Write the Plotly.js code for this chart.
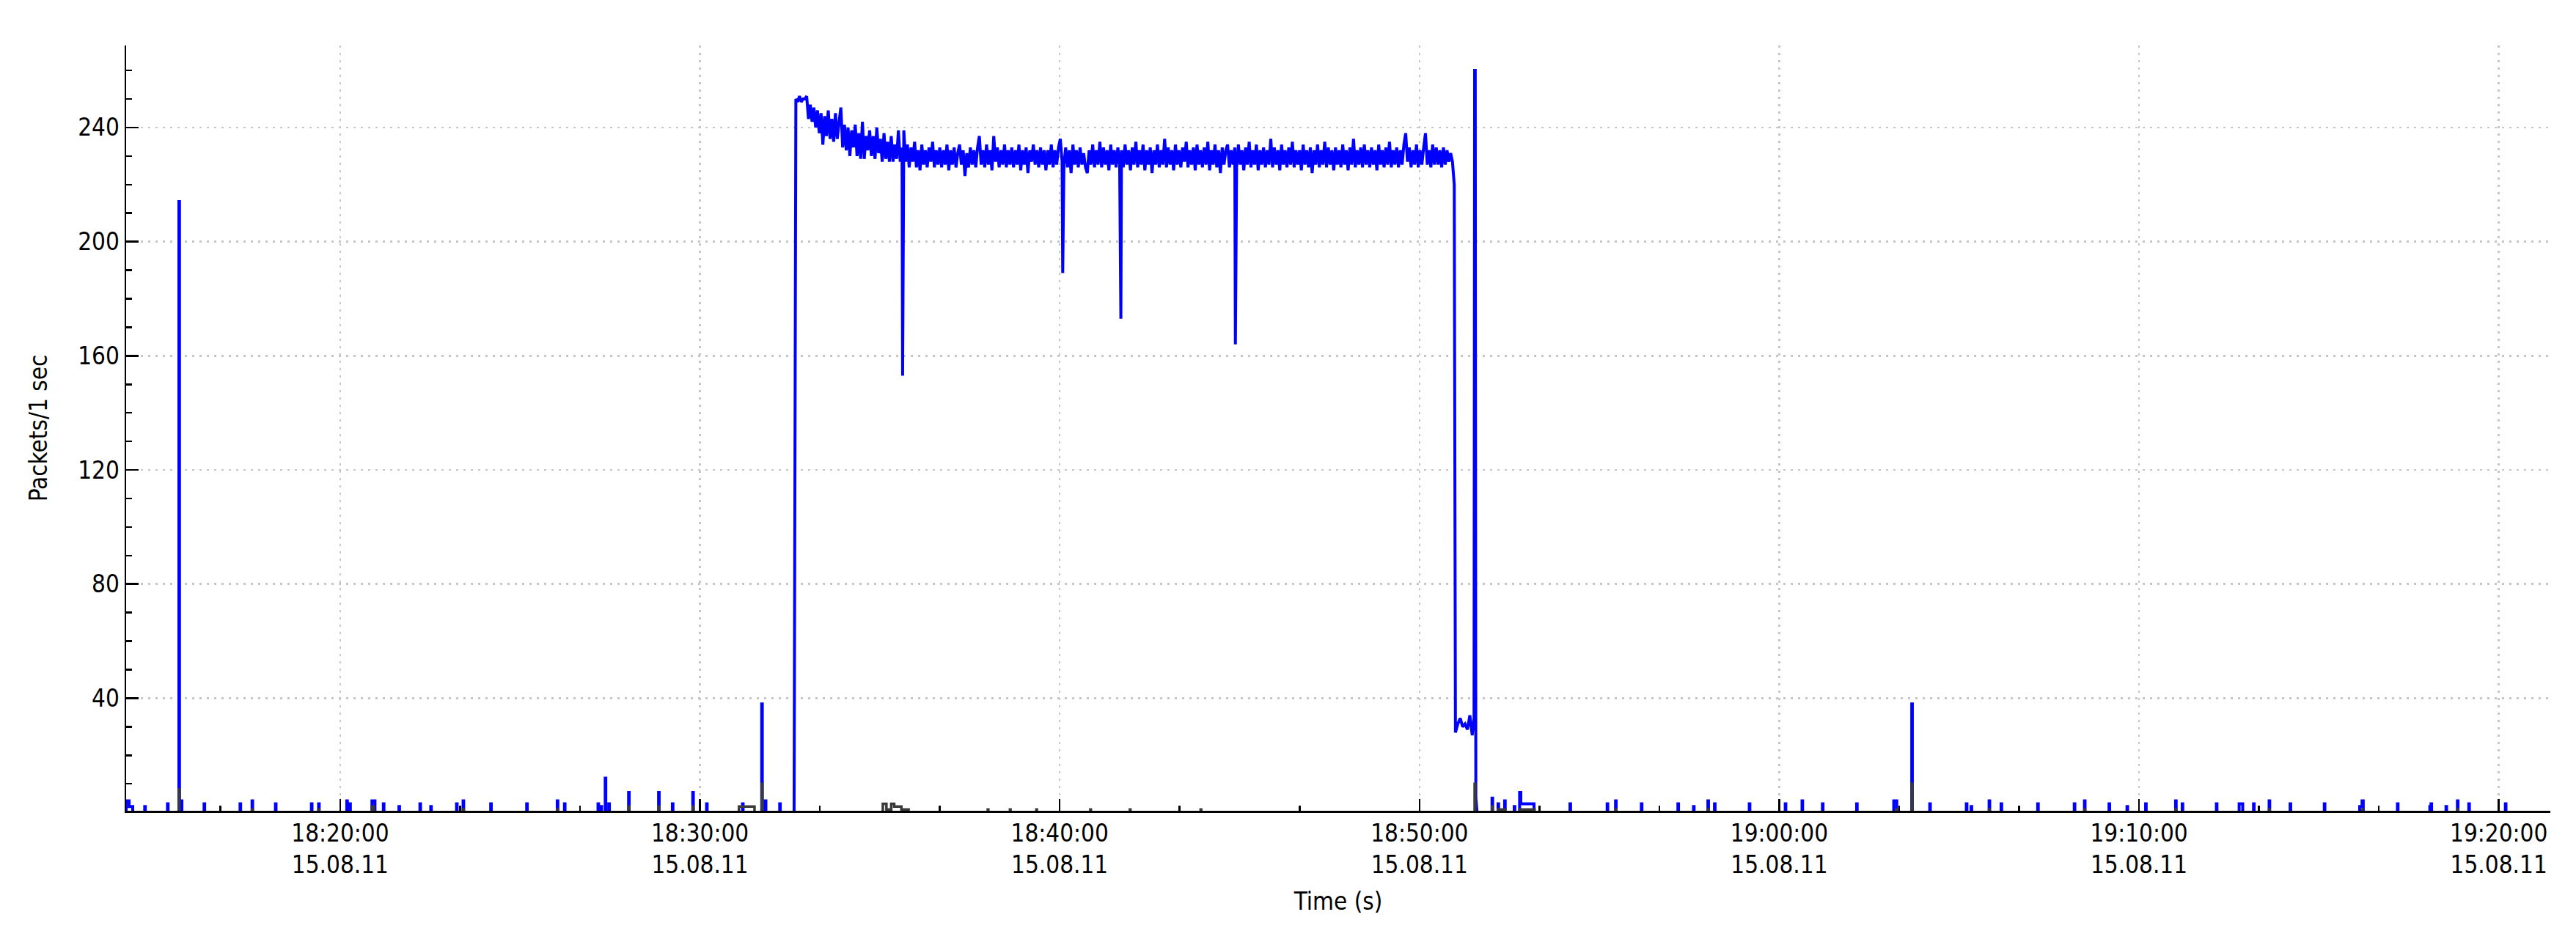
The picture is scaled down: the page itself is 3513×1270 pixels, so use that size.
<!DOCTYPE html>
<html><head><meta charset="utf-8">
<script src="https://cdn.plot.ly/plotly-3.0.1.min.js"></script>
<style>html,body{margin:0;padding:0;background:#fff;} #chart{width:3513px;height:1270px;}</style>
</head><body><div id="chart"></div>
<script>
const day = '2011-08-15';
const xRange = ['18:14:03', '19:21:26'];
const xTickTimes = ['18:20:00','18:30:00','18:40:00','18:50:00','19:00:00','19:10:00','19:20:00'];
const xTickDate = '15.08.11';
const yTickVals = [40, 80, 120, 160, 200, 240];

// blue series, quiet periods: burst start, packets/s, duration (s)
const blueBurstTimes = ['18:14:03','18:14:08','18:14:34','18:15:12','18:15:31','18:15:35','18:16:13','18:17:13','18:17:33','18:18:12',
  '18:19:12','18:19:24','18:20:11','18:20:16','18:20:53','18:21:12','18:21:38','18:22:13','18:22:31','18:23:14',
  '18:23:25','18:24:11','18:25:11','18:26:02','18:26:14','18:27:10','18:27:15','18:27:22','18:27:28','18:28:01',
  '18:28:51','18:29:14','18:29:48','18:30:11','18:31:11','18:31:43','18:31:49','18:32:13',
  '18:52:01','18:52:11','18:52:22','18:52:38','18:52:47','18:52:49','18:54:11','18:55:13','18:55:27','18:56:10',
  '18:57:11','18:57:37','18:58:01','18:58:12','18:59:10','19:00:10','19:00:38','19:01:12','19:02:09','19:03:11',
  '19:03:41','19:04:11','19:05:12','19:05:20','19:05:50','19:06:10','19:07:11','19:08:12','19:08:29','19:09:10',
  '19:09:40','19:10:11','19:11:01','19:11:12','19:12:09','19:12:47','19:13:11','19:13:37','19:14:12','19:15:09',
  '19:16:08','19:16:12','19:17:11','19:18:05','19:18:07','19:18:32','19:18:51','19:19:10','19:20:11'];
const blueBurstValues = [4,2,2,3,214,4,3,3,4,3,
  3,3,4,3,4,3,2,3,2,3,
  4,3,3,4,3,3,2,12,3,7,
  7,3,7,3,3,38,4,3,
  5,3,4,2,7,3,3,3,4,3,
  3,2,4,3,3,3,4,3,3,4,
  38,3,3,2,4,3,3,3,4,3,
  2,3,4,3,3,3,3,4,3,3,
  2,4,3,2,3,2,4,3,3];
const blueBurstSecs = [5,6,1,1,1,1,1,1,1,1,
  1,1,1,1,5,1,1,1,1,1,
  1,1,1,1,1,1,1,1,1,1,
  1,1,1,1,1,1,1,1,
  1,1,1,1,2,22,1,1,1,1,
  1,1,1,1,1,1,1,1,1,5,
  1,1,1,1,1,1,1,1,1,1,
  1,1,1,1,1,6,1,1,1,1,
  4,2,1,2,1,1,1,1,1];

// main transfer, sampled every plateauStep seconds from plateauStart (one row = one minute)
const plateauStart = '18:32:40';
const plateauStep = 3;
const plateauValues = [
  250,249,251,249,250,250,251,243,248,242,247,240,246,238,245,234,244,237,246,236,
  243,235,245,236,242,247,233,241,232,240,230,239,233,241,230,238,229,242,229,237,
  232,239,230,237,229,240,231,236,228,238,229,235,228,237,228,234,229,239,228,233,
  239,228,234,226,233,228,235,226,232,225,234,227,232,226,233,228,235,226,232,227,
  233,226,232,227,234,225,232,227,233,226,231,234,227,232,223,231,226,233,227,232,
  226,233,237,227,232,226,234,227,232,225,237,228,233,226,232,227,234,226,232,227,
  233,226,232,227,234,225,232,227,233,224,232,228,234,227,232,226,233,227,232,225,
  232,227,234,226,232,227,233,236,228,227,233,226,232,224,234,227,232,226,233,227,
  231,226,224,232,227,234,226,232,227,235,226,233,227,232,225,234,227,232,226,233,
  227,232,226,234,227,232,225,233,227,235,226,232,227,234,225,232,227,233,224,232,
  227,234,226,232,227,236,226,233,227,232,225,234,227,232,226,233,228,235,226,232,
  227,233,225,234,227,232,226,233,227,235,225,232,227,234,226,232,224,233,227,232,
  234,226,232,227,233,226,234,227,232,225,233,227,235,226,232,227,234,225,232,227,
  233,226,232,227,236,226,233,227,232,225,234,227,232,226,233,227,235,226,232,227,
  232,225,234,227,232,226,233,224,232,227,234,226,232,227,235,226,233,227,232,225,
  233,227,232,226,234,227,232,225,233,227,236,226,232,227,233,226,234,227,232,226,
  233,227,232,225,234,227,232,226,233,227,235,226,232,227,233,226,232,227,234,238,
  228,233,226,232,227,234,226,232,227,233,238,227,232,226,234,227,233,227,232,226,
  233,227,232,228,231,228];

// short drops during the transfer
const dipTimes = ['18:35:38','18:40:05','18:41:42','18:44:53'];
const dipValues = [153, 189, 173, 164];

// start and end of the transfer
const edgeTimes = ['18:32:37','18:50:58','18:51:00','18:51:04','18:51:08','18:51:12','18:51:16','18:51:20','18:51:24','18:51:28','18:51:31','18:51:32','18:51:33','18:51:34','18:51:36'];
const edgeValues = [0,220,28,31,33,30,31,29,34,27,33,260,260,5,0];

// dark series: burst start, packets/s, duration (s)
const grayBurstTimes = ['18:15:31','18:17:33','18:19:24','18:20:53','18:23:25','18:26:02','18:28:01','18:28:51','18:29:48','18:31:05',
  '18:31:43','18:35:05','18:35:11','18:35:19','18:35:24','18:35:36','18:38:00','18:38:37','18:39:21','18:40:51',
  '18:41:57','18:43:55','18:51:32','18:52:01','18:52:11','18:52:47','18:55:27','18:58:01','19:03:15','19:03:41',
  '19:05:50','19:08:29','19:11:01','19:13:37','19:16:12','19:18:51'];
const grayBurstValues = [8,1,1,2,1,1,2,2,2,2,
  10,3,1,3,2,1,1,1,1,1,
  1,1,10,2,1,1,1,1,1,10,
  1,1,1,1,1,1];
const grayBurstSecs = [1,1,1,3,1,1,1,1,1,26,
  1,6,8,5,12,12,1,1,1,1,
  1,1,1,1,12,25,1,1,1,1,
  1,1,1,1,1,1];

function toSec(hms){ const p = hms.split(':').map(Number); return p[0]*3600 + p[1]*60 + p[2]; }
function pad(n){ return (n < 10 ? '0' : '') + n; }
function toDate(sec){ const h = Math.floor(sec/3600), m = Math.floor((sec%3600)/60), s = sec%60; return day + ' ' + pad(h) + ':' + pad(m) + ':' + pad(s); }
function burstPoints(times, values, secs){
  const pts = []; let prevEnd = null;
  for (let i = 0; i < times.length; i++){
    const s = toSec(times[i]), e = s + secs[i];
    if (prevEnd === s) pts.pop(); else pts.push([s, 0]);
    pts.push([s, values[i]]); pts.push([e, values[i]]); pts.push([e, 0]);
    prevEnd = e;
  }
  return pts;
}

let bluePts = burstPoints(blueBurstTimes, blueBurstValues, blueBurstSecs);
const p0 = toSec(plateauStart);
plateauValues.forEach((v, i) => bluePts.push([p0 + i*plateauStep, v]));
dipTimes.forEach((t, i) => bluePts.push([toSec(t), dipValues[i]]));
edgeTimes.forEach((t, i) => bluePts.push([toSec(t), edgeValues[i]]));
bluePts.sort((a, b) => a[0] - b[0]);
const grayPts = burstPoints(grayBurstTimes, grayBurstValues, grayBurstSecs);

const font = {family: 'DejaVu Sans Condensed, DejaVu Sans, sans-serif', size: 33, color: '#000'};

const traces = [
  {type: 'scatter', mode: 'lines', x: bluePts.map(p => toDate(p[0])), y: bluePts.map(p => p[1]),
   line: {color: '#0000ff', width: 4, simplify: false}, hoverinfo: 'skip', showlegend: false},
  {type: 'scatter', mode: 'lines', x: grayPts.map(p => toDate(p[0])), y: grayPts.map(p => p[1]),
   line: {color: '#3a3a3a', width: 3.5, simplify: false}, hoverinfo: 'skip', showlegend: false}
];

const layout = {
  width: 3513, height: 1270,
  margin: {l: 172, r: 35, t: 62, b: 164, pad: 0},
  paper_bgcolor: '#fff', plot_bgcolor: '#fff',
  font: font,
  showlegend: false,
  xaxis: {
    type: 'date',
    range: [day + ' ' + xRange[0], day + ' ' + xRange[1]],
    tickmode: 'array',
    tickvals: xTickTimes.map(t => day + ' ' + t),
    ticktext: xTickTimes.map(t => t + '<br>' + xTickDate),
    ticks: 'inside', ticklen: 16, tickwidth: 2.5, tickcolor: '#000',
    showline: true, linecolor: '#000', linewidth: 2.5, mirror: false,
    showgrid: true, gridcolor: '#c6c6c6', gridwidth: 2.5, griddash: '3px,7px',
    zeroline: false,
    minor: {tickmode: 'linear', tick0: day + ' 18:20:00', dtick: 200000, ticks: 'inside', ticklen: 7, tickwidth: 2.5, tickcolor: '#000', showgrid: false},
    title: {text: 'Time (s)', font: font, standoff: 20},
    tickfont: font
  },
  yaxis: {
    range: [0.55, 268.75],
    tickmode: 'array', tickvals: yTickVals,
    ticks: 'inside', ticklen: 17, tickwidth: 2.5, tickcolor: '#000',
    showline: true, linecolor: '#000', linewidth: 2.5,
    showgrid: true, gridcolor: '#c6c6c6', gridwidth: 2.5, griddash: '3px,7px',
    zeroline: false,
    minor: {tickmode: 'linear', tick0: 0, dtick: 10, ticks: 'inside', ticklen: 8, tickwidth: 2.5, tickcolor: '#000', showgrid: false},
    title: {text: 'Packets/1 sec', font: font, standoff: 32},
    tickfont: font
  }
};

Plotly.newPlot('chart', traces, layout, {displayModeBar: false, staticPlot: true});
</script>
</body></html>
